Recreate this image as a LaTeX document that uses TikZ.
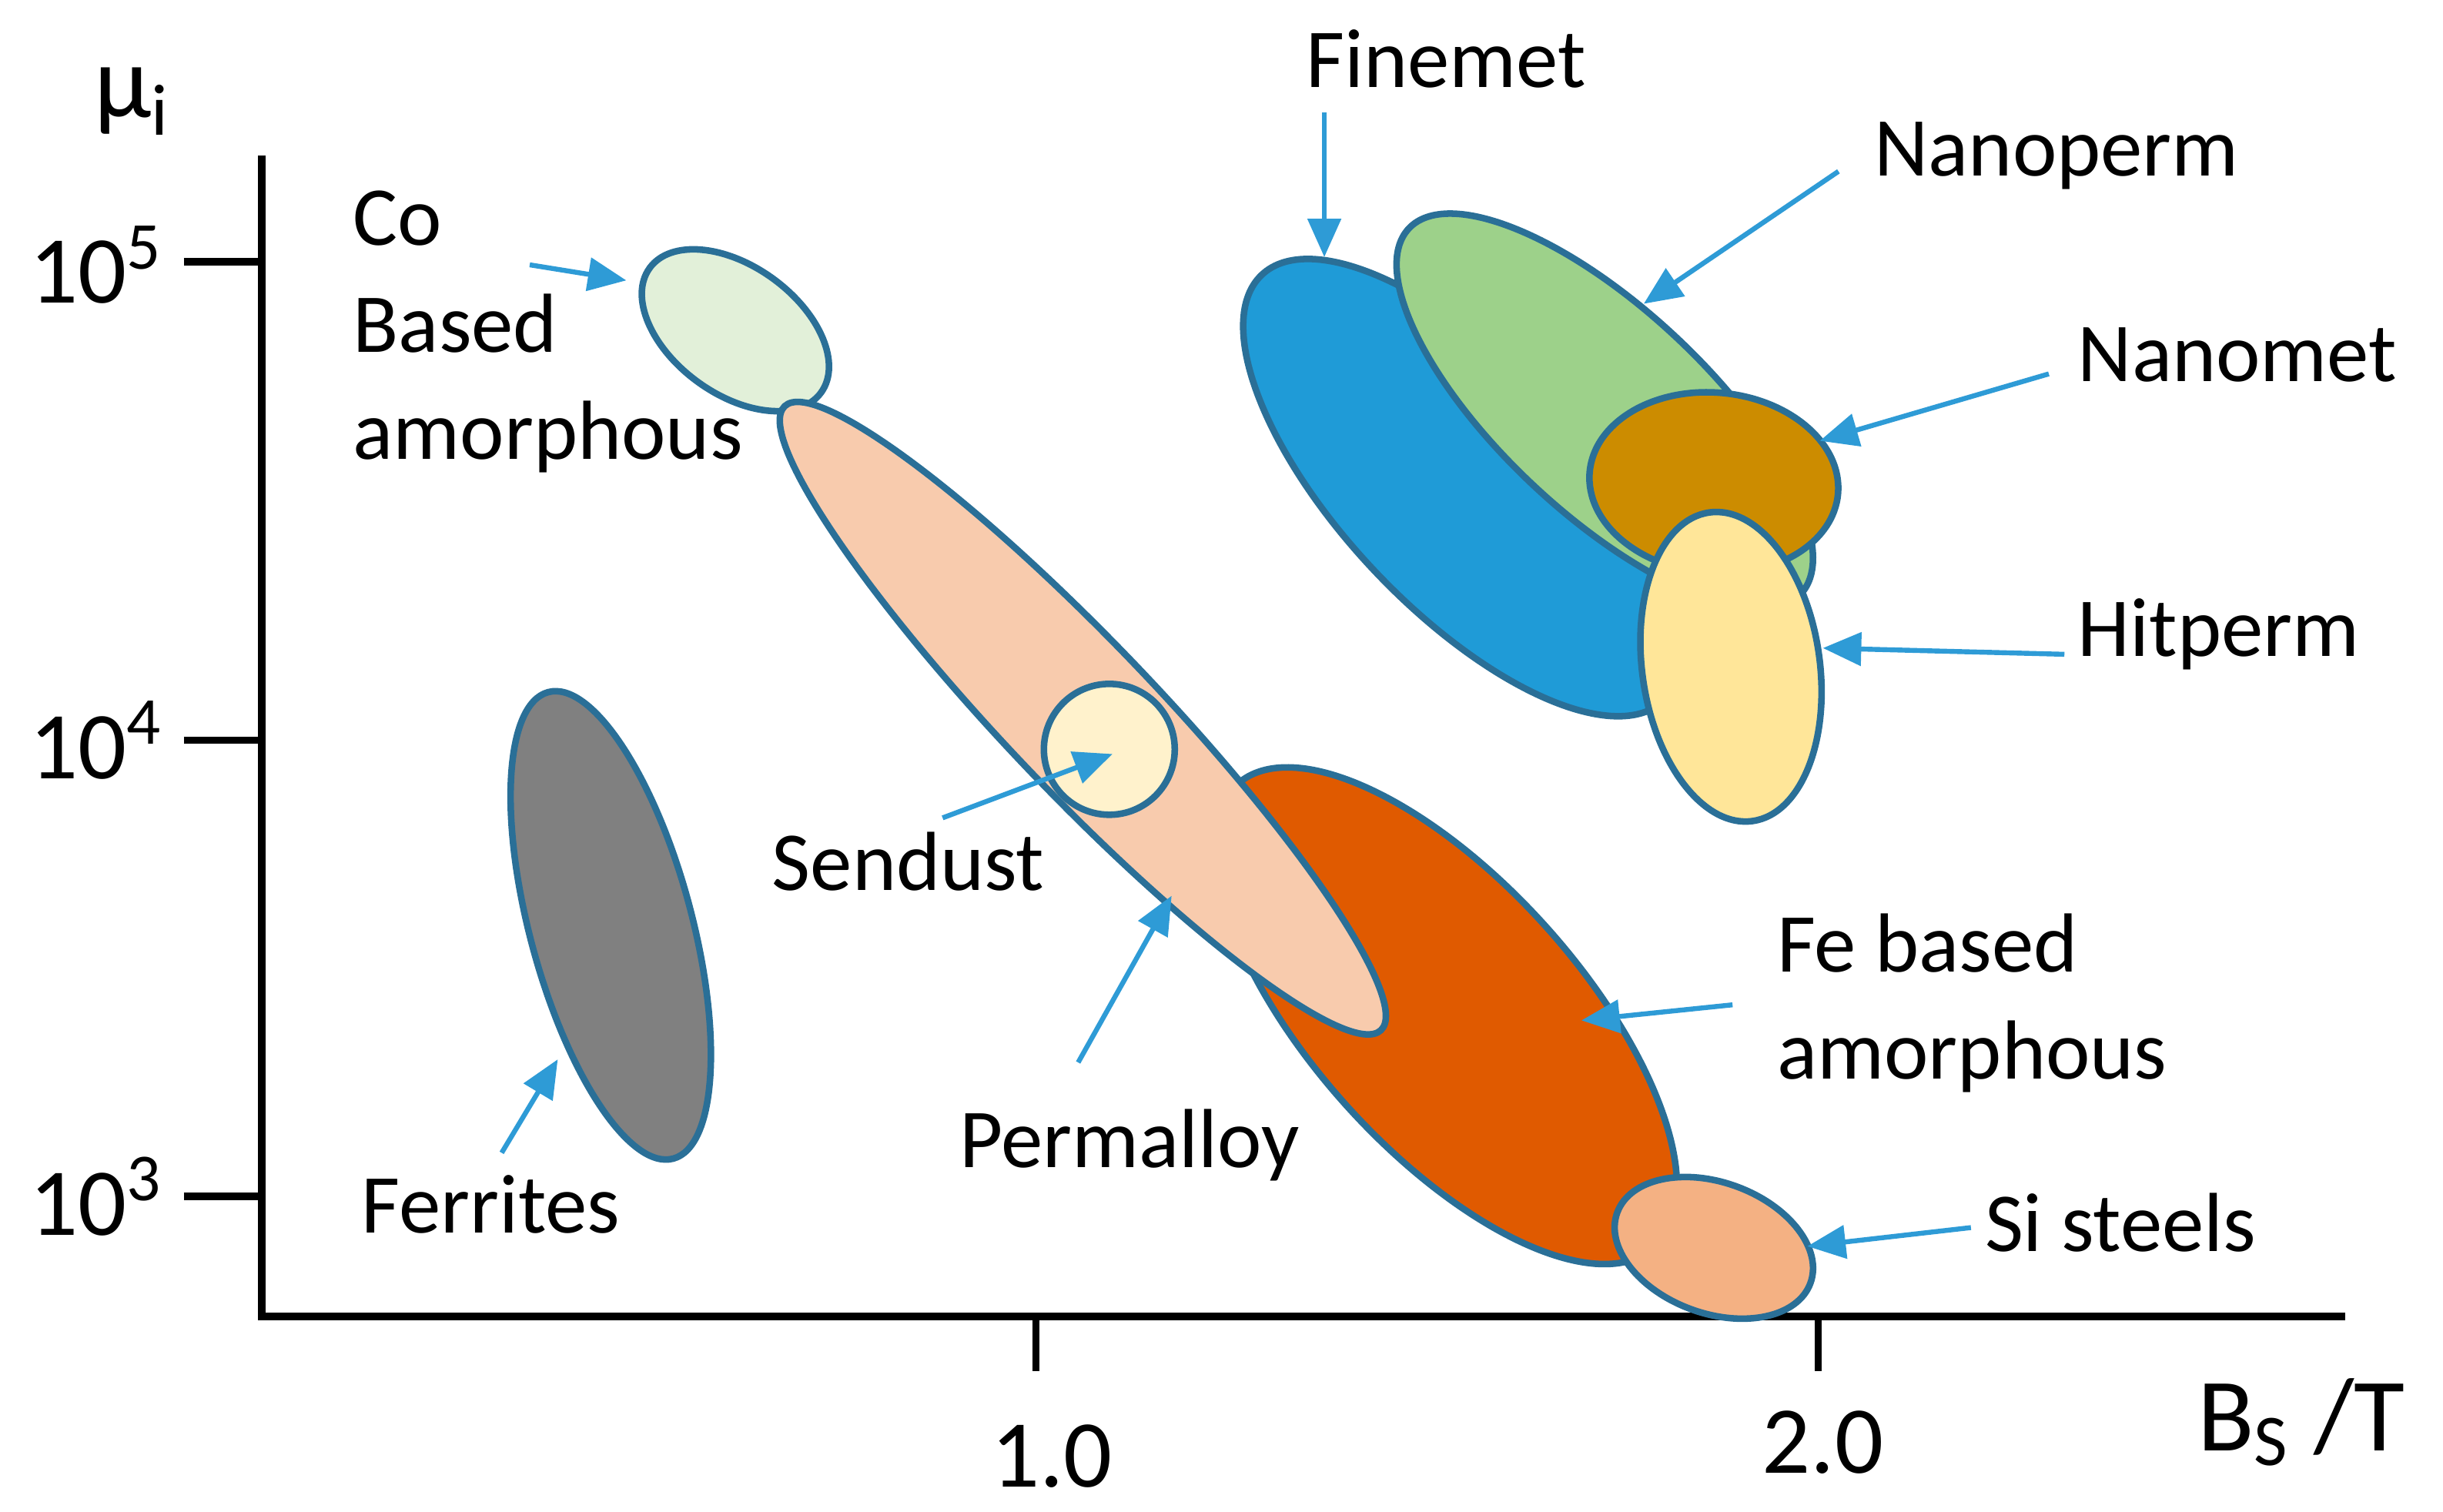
\documentclass[tikz,border=0pt]{standalone}
\usepackage{fontspec}
\setmainfont{Carlito}
\usetikzlibrary{arrows.meta}
\definecolor{edge}{HTML}{2A6F97}
\definecolor{arr}{HTML}{2E9BD6}
\definecolor{cferr}{HTML}{808080}
\definecolor{cco}{HTML}{E2F0D9}
\definecolor{cperm}{HTML}{F8CBAD}
\definecolor{cfe}{HTML}{E05A00}
\definecolor{csend}{HTML}{FFF2CC}
\definecolor{csi}{HTML}{F4B183}
\definecolor{cfine}{HTML}{1F9BD7}
\definecolor{cnanop}{HTML}{9DD18A}
\definecolor{cnanom}{HTML}{CC8C00}
\definecolor{chit}{HTML}{FFE699}
\tikzset{blob/.style={draw=edge,line width=1.2pt},
  lab/.style={font=\fontsize{15.3}{19.5}\selectfont,inner sep=0pt},
  tick/.style={font=\fontsize{17.5}{20}\selectfont,inner sep=0pt},
  ptr/.style={draw=arr,line width=0.9pt,-{Triangle[length=7pt,width=6pt]}},
  axis/.style={line width=1.3pt}}
\begin{document}
\begin{tikzpicture}[x=0.01cm,y=-0.01cm]
\useasboundingbox (0,0) rectangle (1568,970.5);
% axes
\coordinate (o) at (168,845);
\draw[axis] (168,100) -- (o) -- (1505,845);
\draw[axis] (118,168) -- (168,168);
\draw[axis] (118,475) -- (168,475);
\draw[axis] (118,768) -- (168,768);
\draw[axis] (665,845) -- (665,880);
\draw[axis] (1167,845) -- (1167,880);
\node[tick] (t5) at (62,170) {10\textsuperscript{5}};
\node[tick] (t4) at (62,475) {10\textsuperscript{4}};
\node[tick] (t3) at (62,768) {10\textsuperscript{3}};
\node[tick] (x1) at (675,935) {1.0};
\node[tick] (x2) at (1170,926) {2.0};
\node[tick,font=\fontsize{19}{22}\selectfont] (mu) at (85,65) {μ\textsubscript{i}};
\node[tick,font=\fontsize{19}{22}\selectfont] (bs) at (1477,913) {B\textsubscript{S} /T};
% ellipses
\draw[blob,fill=cferr,rotate around={105:(392,594)}] (392,594) ellipse (155 and 52);
\draw[blob,fill=cco,rotate around={-36:(472,212)}] (472,212) ellipse (68 and 41);
\draw[blob,fill=cfe,rotate around={-48:(928,652)}] (928,652) ellipse (200 and 86);
\draw[blob,fill=cperm,rotate around={-46.3:(695,461)}] (695,461) ellipse (277 and 48);
\draw[blob,fill=csend] (712,481) circle (42);
\draw[blob,fill=csi,rotate around={-20:(1100,801)}] (1100,801) ellipse (66 and 42);
\draw[blob,fill=cfine,rotate around={-46.6:(939,313)}] (939,313) ellipse (188 and 78);
\draw[blob,fill=cnanop,rotate around={-43:(1030,264)}] (1030,264) ellipse (172 and 66);
\draw[blob,fill=cnanom,rotate around={-5:(1100,310)}] (1100,310) ellipse (80 and 58);
\draw[blob,fill=chit,rotate around={98:(1111,428)}] (1111,428) ellipse (100 and 57);
% labels
\node[lab] (lfine) at (928,38) {Finemet};
\node[lab] (lnanop) at (1320,100) {Nanoperm};
\node[lab] (lnanom) at (1436,228) {Nanomet};
\node[lab] (lhit) at (1424,407) {Hitperm};
\node[lab,align=left,anchor=north west] (lfe) at (1140,586) {Fe based\\amorphous};
\node[lab] (lsi) at (1361,785) {Si steels};
\node[lab] (lperm) at (725,735) {Permalloy};
\node[lab] (lsend) at (583,553) {Sendust};
\node[lab] (lferr) at (315,773) {Ferrites};
\node[lab,align=left,anchor=north west] (lco) at (226,122) {Co\\Based\\amorphous};
% pointers
\coordinate (a1) at (850,72); \coordinate (b1) at (850,165);
\coordinate (a2) at (1180,110); \coordinate (b2) at (1055,195);
\coordinate (a3) at (1315,240); \coordinate (b3) at (1168,283);
\coordinate (a4) at (1325,420); \coordinate (b4) at (1170,416);
\coordinate (a5) at (1112,645); \coordinate (b5) at (1015,655);
\coordinate (a6) at (1265,788); \coordinate (b6) at (1160,800);
\coordinate (a7) at (692,682); \coordinate (b7) at (752,575);
\coordinate (a8) at (605,525); \coordinate (b8) at (714,484);
\coordinate (a9) at (322,740); \coordinate (b9) at (358,680);
\coordinate (a10) at (340,170); \coordinate (b10) at (402,180);
\foreach \i in {1,...,10} {\draw[ptr] (a\i) -- (b\i);}
\end{tikzpicture}
\end{document}
